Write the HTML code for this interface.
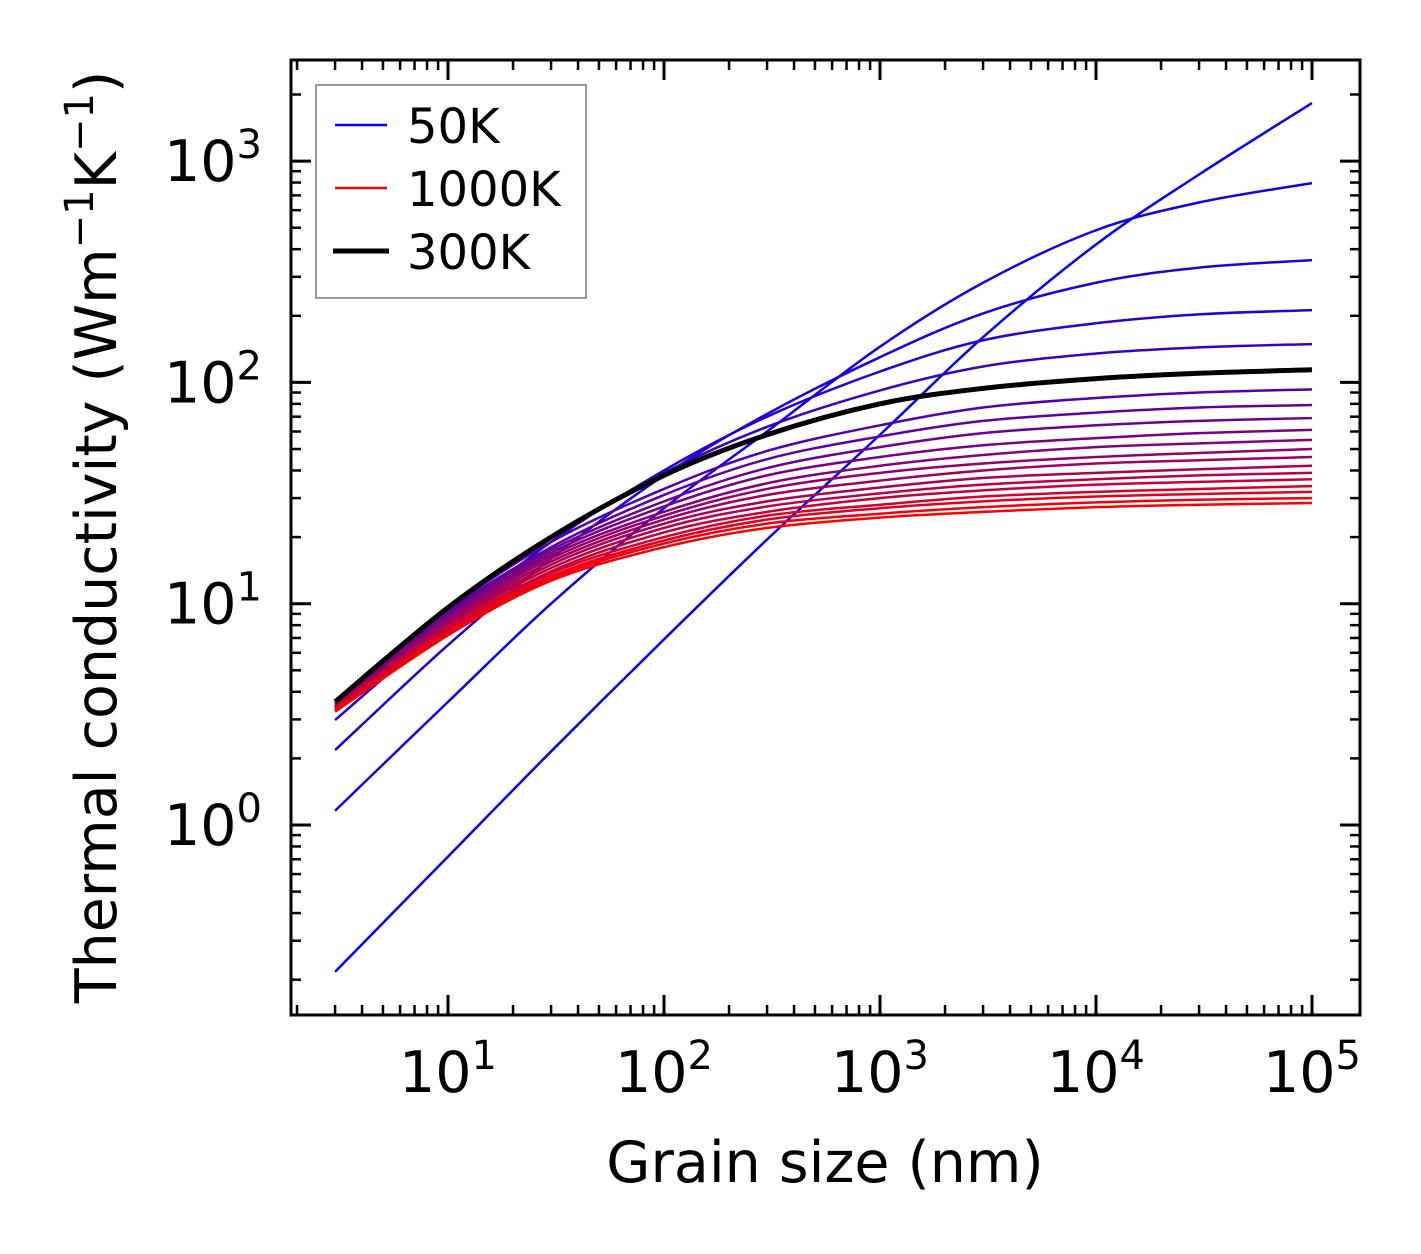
<!DOCTYPE html>
<html><head><meta charset="utf-8"><style>
html,body{margin:0;padding:0;background:#fff}
svg{display:block;font-family:"DejaVu Sans","Liberation Sans",sans-serif}
</style></head><body>
<svg id="chart" width="1421" height="1254" viewBox="0 0 1421 1254" xmlns="http://www.w3.org/2000/svg">
<g id="curves"></g>
<g id="axes"></g>
<text x="825" y="1182" font-size="57" text-anchor="middle">Grain size (nm)</text>
<text transform="translate(116,537) rotate(-90)" font-size="57" text-anchor="middle">Thermal conductivity (Wm<tspan baseline-shift="super" font-size="40">−1</tspan>K<tspan baseline-shift="super" font-size="40">−1</tspan>)</text>
<g>
<rect x="316" y="85" width="270" height="213" fill="#fff" stroke="#999" stroke-width="2"/>
<line x1="335" y1="125" x2="387" y2="125" stroke="#0000ff" stroke-width="2.5"/>
<text x="407" y="143" font-size="48">50K</text>
<line x1="335" y1="188" x2="387" y2="188" stroke="#ff0000" stroke-width="2.5"/>
<text x="407" y="206" font-size="48">1000K</text>
<line x1="333" y1="251" x2="389" y2="251" stroke="#000" stroke-width="5"/>
<text x="407" y="269" font-size="48">300K</text>
</g>
</svg>
<script>
const grainSizes=[3,10,30,100,300,1000,3000,1e4,3e4,1e5];
const temps=[50,100,150,200,250,300,350,400,450,500,550,600,650,700,750,800,850,900,950,1000];
const k50=[0.217,0.72,2.15,6.9,19.5,58,160,420,870,1830];
const k100=[1.16,3.6,10,27,60,145,282,487,650,795];
const k150=[2.18,6.5,16,38,72,130,205,282,330,357];
const k200=[2.98,8.2,19,40,70,112,155,185,203,212];
const k250=[3.4,9.3,20,39,63,92,118,135,144,149];
const k300=[3.6,9.6,20,38,58,80,94,104,110,114];
const k350=[3.6,9.4,19,33,49,64,77,85,90,93];
const k400=[3.6,9.2,18,31,45,57,67,73,77,79];
const k450=[3.55,9.0,17.5,29,41,51,59,64,67,69];
const k500=[3.5,8.8,17,27.5,38,46,52,56,59,61];
const k550=[3.5,8.6,16.5,26,35,42,47,51,53,55];
const k600=[3.45,8.4,16,25,33,39,43,46,48,50];
const k650=[3.45,8.2,15.5,24,31,36,40,43,44.5,46];
const k700=[3.4,8.0,15,23,29,33.5,37,39,40.5,42];
const k750=[3.4,7.9,14.5,22,27.5,31.5,34.5,36.5,38,39];
const k800=[3.35,7.7,14,21,26,30,32.5,34.5,35.5,36.5];
const k850=[3.35,7.6,13.7,20,25,28,30.5,32,33,34];
const k900=[3.3,7.4,13.3,19.3,24,27,29,30.5,31.3,32];
const k950=[3.3,7.3,13,18.7,23,25.5,27.3,28.7,29.5,30];
const k1000=[3.25,7.2,12.7,18,22,24.5,26,27.3,28,28.5];
const series=[k50,k100,k150,k200,k250,k300,k350,k400,k450,k500,k550,k600,k650,k700,k750,k800,k850,k900,k950,k1000];
const xTickLabels=["1","2","3","4","5"];
const yTickLabels=["0","1","2","3"];

const L=291,R=1360,T=60,B=1015;
const xs=v=>448+216*(Math.log10(v)-1);
const ys=v=>825-221.3*Math.log10(v);
const NS="http://www.w3.org/2000/svg";
function mk(tag,attrs,parent){const e=document.createElementNS(NS,tag);for(const k in attrs)e.setAttribute(k,attrs[k]);parent.appendChild(e);return e;}
function pathFor(vals){
  const p=grainSizes.map((g,i)=>[xs(g),ys(vals[i])]);
  let d=`M${p[0][0]},${p[0][1]}`;
  for(let i=0;i<p.length-1;i++){
    const p0=p[Math.max(0,i-1)],p1=p[i],p2=p[i+1],p3=p[Math.min(p.length-1,i+2)];
    const c1=[p1[0]+(p2[0]-p0[0])/6,p1[1]+(p2[1]-p0[1])/6];
    const c2=[p2[0]-(p3[0]-p1[0])/6,p2[1]-(p3[1]-p1[1])/6];
    d+=`C${c1[0]},${c1[1]} ${c2[0]},${c2[1]} ${p2[0]},${p2[1]}`;
  }
  return d;
}
const cg=document.getElementById('curves');
series.forEach((vals,i)=>{
  if(temps[i]===300) return;
  const t=(temps[i]-50)/950;
  const col=`rgb(${Math.round(255*t)},0,${Math.round(255*(1-t))})`;
  const e=mk('path',{d:pathFor(vals),fill:'none',stroke:col,'stroke-width':2.5},cg);
  
  
});
const blk=mk('path',{d:pathFor(k300),fill:'none',stroke:'#000','stroke-width':5},cg);



const ag=document.getElementById('axes');
const frame=mk('rect',{x:L,y:T,width:R-L,height:B-T,fill:'none',stroke:'#000','stroke-width':3},ag);


function tick(x1,y1,x2,y2,w){mk('line',{x1,y1,x2,y2,stroke:'#000','stroke-width':w},ag);}
for(let d=0;d<=5;d++){
  for(let m=1;m<10;m++){
    const v=m*Math.pow(10,d);const x=xs(v);
    if(x<L||x>R)continue;
    const len=m===1?20:10,w=m===1?3:2.5;
    tick(x,B,x,B-len,w);tick(x,T,x,T+len,w);
  }
}
for(let d=-1;d<=3;d++){
  for(let m=1;m<10;m++){
    const v=m*Math.pow(10,d);const y=ys(v);
    if(y<T||y>B)continue;
    const len=m===1?20:10,w=m===1?3:2.5;
    tick(L,y,L+len,y,w);tick(R,y,R-len,y,w);
  }
}
xTickLabels.forEach(s=>{
  const t=mk('text',{x:xs(Math.pow(10,+s)),y:1092,'font-size':57,'text-anchor':'middle'},ag);
  
  
  t.innerHTML=`10<tspan baseline-shift="super" font-size="40">${s}</tspan>`;
});
yTickLabels.forEach(s=>{
  const t=mk('text',{x:262,y:ys(Math.pow(10,+s))+20,'font-size':57,'text-anchor':'end'},ag);
  
  
  t.innerHTML=`10<tspan baseline-shift="super" font-size="40">${s}</tspan>`;
});
</script>
</body></html>
